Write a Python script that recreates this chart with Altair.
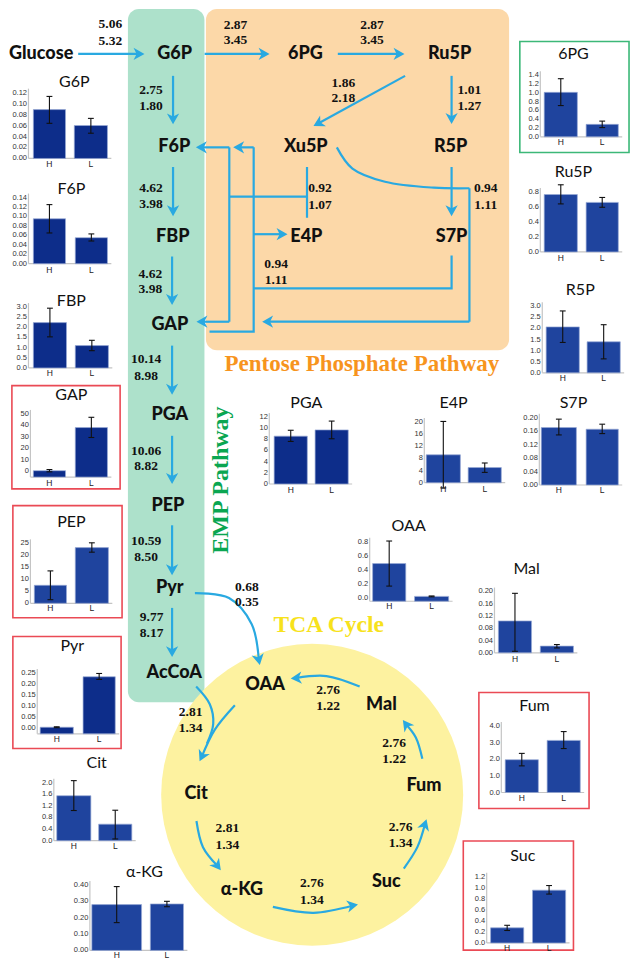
import math
import altair as alt
import pandas as pd

# ----------------------------- data -----------------------------
metabolites = ["G6P", "F6P", "FBP", "GAP", "PEP", "Pyr", "Cit", "α-KG", "6PG",
               "Ru5P", "R5P", "PGA", "E4P", "S7P", "OAA", "Mal", "Fum", "Suc"]
groups = ["H", "L"]
h_mean = [0.089, 0.095, 2.23, 0.2, 7.5, 0.003, 1.55, 0.28, 1.01, 0.765, 2.07, 8.55, 9.2, 0.171, 0.49, 0.104, 1.97, 0.274]
h_lo = [0.064, 0.065, 1.53, -0.8, 1.5, 0.001, 1.04, 0.17, 0.71, 0.64, 1.37, 7.6, -1.7, 0.149, 0.17, 0.005, 1.6, 0.226]
h_hi = [0.113, 0.125, 2.94, 1.2, 13.5, 0.005, 2.07, 0.39, 1.32, 0.895, 2.79, 9.6, 20.2, 0.196, 0.81, 0.194, 2.35, 0.32]
l_mean = [0.060, 0.055, 1.10, 38.0, 23.2, 0.232, 0.57, 0.284, 0.283, 0.66, 1.40, 9.66, 5.0, 0.166, 0.024, 0.022, 3.13, 0.956]
l_lo = [0.046, 0.048, 0.85, 29.3, 21.3, 0.220, 0.06, 0.267, 0.21, 0.595, 0.63, 8.08, 3.4, 0.153, 0.018, 0.016, 2.64, 0.885]
l_hi = [0.073, 0.063, 1.36, 47.0, 25.2, 0.247, 1.05, 0.30, 0.357, 0.726, 2.17, 11.24, 6.5, 0.181, 0.030, 0.027, 3.66, 1.04]
axis_max = [0.12, 0.14, 3.0, 50, 25, 0.25, 2.0, 0.40, 1.4, 0.8, 3.0, 12, 20, 0.20, 0.8, 0.20, 4.0, 1.2]
axis_step = [0.02, 0.02, 0.5, 10, 5, 0.05, 0.4, 0.10, 0.2, 0.2, 0.5, 2, 4, 0.04, 0.2, 0.04, 1.0, 0.2]
axis_min = [0, 0, 0, -5.4, 0, -0.027, 0, 0, 0, 0, 0, 0, 0, 0, -0.045, 0, 0, 0]
tick_decimals = [2, 2, 1, 0, 0, 2, 1, 2, 1, 1, 1, 0, 0, 2, 1, 2, 1, 1]

flux_top = ["5.06", "2.87", "2.87", "2.75", "1.86", "1.01", "4.62", "0.92", "0.94", "4.62", "0.94",
            "10.14", "10.06", "10.59", "9.77", "0.68", "2.81", "2.76", "2.76", "2.81", "2.76", "2.76"]
flux_bottom = ["5.32", "3.45", "3.45", "1.80", "2.18", "1.27", "3.98", "1.07", "1.11", "3.98", "1.11",
               "8.98", "8.82", "8.50", "8.17", "0.35", "1.34", "1.22", "1.22", "1.34", "1.34", "1.34"]

node_names = ["Glucose", "G6P", "6PG", "Ru5P", "F6P", "Xu5P", "R5P", "FBP", "E4P", "S7P", "GAP",
              "PGA", "PEP", "Pyr", "AcCoA", "OAA", "Mal", "Cit", "Fum", "α-KG", "Suc"]

pathway_titles = ["Pentose Phosphate Pathway", "EMP Pathway", "TCA Cycle"]

# ----------------------------- layout -----------------------------
W0, H0 = 638, 967          # reference coordinate space
PW, PH = 622, 951          # drawn size
SX = alt.Scale(domain=[0, W0], range=[0, PW], nice=False, zero=False)
SY = alt.Scale(domain=[0, H0], range=[0, PH], nice=False, zero=False)

BLUE = "#29a9e1"
RED = "#ea4a55"
GBOX = "#3cb878"
DARK = "#0d2d8a"
LIGHT = "#1f449e"

node_pos = [(34, 46.7), (171, 46.7), (305, 46.7), (453, 46.7), (170.5, 141.7), (305.5, 141.7),
            (454, 141.7), (169, 233), (306, 233), (455, 233), (166, 322.7), (166, 414), (164, 506),
            (166, 590), (170.5, 675.7), (263.7, 688.3), (383, 708.3), (193, 799.3), (426.7, 790.7),
            (240, 896.7), (388, 888.3)]

flux_pos = [(105, 16.7, 33.3), (233.3, 17, 33), (373.3, 17, 33), (146.7, 83.3, 100), (344, 76, 91.5),
            (473.3, 83.3, 99.3), (146.7, 183.3, 199.3), (320, 183.3, 200.3), (490, 183.3, 200),
            (146, 270, 286), (275, 260.7, 276.7), (141.7, 357.3, 374), (141.7, 450, 466),
            (141.7, 541.7, 558.3), (147.3, 619.3, 635.7), (245, 588.3, 604), (187.3, 716, 732),
            (328.3, 693.3, 709.3), (396, 747.3, 763.3), (225, 834.3, 850.7), (402.7, 832.7, 848.7),
            (311.7, 890, 906.7)]

pathway_style = [(363, 362, 0, "#f7941d", 23), (218, 480, 270, "#0aa651", 24), (329, 627, 0, "#f7e21c", 23.5)]

inset_layout = {
    "G6P": dict(ax=21, y0=153, ytop=86, hb=(26, 59), lb=(68, 102), title=(68, 75), xl=159, col=DARK),
    "F6P": dict(ax=21, y0=260, ytop=192.7, hb=(26, 59), lb=(69, 102), title=(65, 184), xl=266, col=DARK),
    "FBP": dict(ax=21, y0=366, ytop=304, hb=(26, 60), lb=(69, 103), title=(65, 298), xl=371.5, col=DARK),
    "GAP": dict(ax=23, y0=470.7, ytop=412.7, hb=(26, 59), lb=(69, 102), title=(65, 394), xl=483,
                box=(4, 384, 115, 489, RED), col=DARK),
    "PEP": dict(ax=23, y0=605.3, ytop=544.3, hb=(27, 60), lb=(69, 103), title=(65, 523), xl=610.5,
                box=(5, 506, 117, 620, RED), col=LIGHT),
    "Pyr": dict(ax=30, y0=732, ytop=676, hb=(33, 67), lb=(77, 110), title=(66, 649), xl=743,
                box=(5, 639, 116, 753, RED), col=DARK),
    "Cit": dict(ax=47, y0=846.7, ytop=787.7, hb=(50, 85), lb=(93, 127), title=(91, 768), xl=852, col=LIGHT),
    "α-KG": dict(ax=84, y0=958.3, ytop=891.7, hb=(86, 137), lb=(146, 180), title=(140, 879), xl=963, col=LIGHT),
    "6PG": dict(ax=546, y0=131, ytop=68.3, hb=(550, 584), lb=(593, 626), title=(580, 47), xl=136.5,
                box=(525, 34, 637, 147, GBOX), col=LIGHT),
    "Ru5P": dict(ax=546, y0=248, ytop=187, hb=(550, 584), lb=(593, 626), title=(580, 167), xl=254, col=LIGHT),
    "R5P": dict(ax=548, y0=371, ytop=303.3, hb=(552, 586), lb=(594, 628), title=(587, 287), xl=376.5, col=LIGHT),
    "PGA": dict(ax=268, y0=484, ytop=415.7, hb=(273, 307), lb=(315, 349), title=(306, 402), xl=490, col=DARK),
    "E4P": dict(ax=427, y0=482.7, ytop=421, hb=(429, 464), lb=(472, 506), title=(457, 402), xl=489, col=LIGHT),
    "S7P": dict(ax=545, y0=485, ytop=416.7, hb=(547, 583), lb=(593, 626), title=(580, 402), xl=490.5, col=LIGHT),
    "OAA": dict(ax=371, y0=600, ytop=542.7, hb=(374, 408), lb=(417, 452), title=(411, 527), xl=608.5, col=LIGHT),
    "Mal": dict(ax=499, y0=655.7, ytop=593.3, hb=(503, 537), lb=(546, 580), title=(532, 570), xl=662, col=LIGHT),
    "Fum": dict(ax=506, y0=797.7, ytop=730, hb=(510, 544), lb=(553, 587), title=(540, 710), xl=803,
                box=(483, 696, 596, 814, RED), col=LIGHT),
    "Suc": dict(ax=491, y0=950.7, ytop=883.3, hb=(495, 529), lb=(538, 572), title=(528, 862), xl=956,
                box=(467, 847, 580, 958, RED), col=LIGHT),
}

# arrows: straight (start, tip)
straight_arrows = [
    ((72, 46.7), (140, 46.7)), ((201.7, 46.7), (268.3, 46.7)), ((338.3, 46.7), (406.7, 46.7)),
    ((169.3, 69), (169.3, 118.3)), ((407.3, 69), (313.3, 120)), ((455, 69), (455, 118)),
    ((169.3, 161.7), (169.3, 211.7)), ((455, 161.7), (455, 211.7)),
    ((168.3, 252.7), (168.3, 302)), ((168.3, 343.3), (168.3, 393.3)), ((168.3, 435), (168.3, 484)),
    ((168.3, 526), (168.3, 576.7)), ((168.3, 610), (168.3, 660)),
    ((227, 141.7), (192.7, 141.7)), ((252, 141.7), (231, 141.7)), ((252, 230), (286.7, 230)),
    ((227, 319), (193.3, 319)), ((473.3, 319), (260.7, 319)),
]
polylines = [
    [(306.7, 161.7), (306.7, 213.3)], [(227, 191.7), (306.7, 191.7)], [(227, 141.7), (227, 319)],
    [(252, 141.7), (252, 329), (206.7, 329)], [(252, 285), (455, 285), (455, 251.7)],
    [(473.3, 183.3), (473.3, 319)],
]
curves = [  # (points, arrow at end?)
    ([(337.3, 141.7), (353.3, 163.3), (386.7, 176.7), (436.7, 182.7), (473.3, 183.3)], False),
    ([(191.7, 595), (226.7, 600), (250, 626.7), (258.3, 668)], True),
    ([(193, 690), (207, 708), (210.5, 728), (204, 748)], False),
    ([(232.7, 709), (212, 734), (196.5, 766)], True),
    ([(193.3, 826.7), (200, 853.3), (218.3, 876.7)], True),
    ([(271.7, 914), (313.3, 920), (359, 911.7)], True),
    ([(406, 875), (420, 853), (429.3, 825)], True),
    ([(425, 763.3), (418.3, 741.7), (405, 724)], True),
    ([(360.7, 690), (326.7, 679.3), (290, 681.7)], True),
]


def X(f):
    return alt.X(f, type="quantitative", scale=SX, axis=None)


def Y(f):
    return alt.Y(f, type="quantitative", scale=SY, axis=None)


def unit(a, b):
    dx, dy = b[0] - a[0], b[1] - a[1]
    n = math.hypot(dx, dy)
    return dx / n, dy / n


# ----------------------------- background -----------------------------
bg = pd.DataFrame([
    dict(x1=203, x2=514, y1=1, y2=348, fill="#fcd8a8"),
    dict(x1=123, x2=201.5, y1=1, y2=706, fill="#ade1cb"),
])
bg_layer = alt.Chart(bg).mark_rect(cornerRadius=11).encode(
    x=X("x1"), x2="x2", y=Y("y1"), y2="y2", color=alt.Color("fill:N", scale=None))

circle_df = pd.DataFrame([dict(x=312, y=800)])
circle_layer = alt.Chart(circle_df).mark_circle(size=(2 * 151) ** 2, opacity=1, color="#fdf2a0").encode(
    x=X("x"), y=Y("y"))

# ----------------------------- arrows -----------------------------
lin_rows, cur_rows, head_rows = [], [], []
pid = 0
for s, t in straight_arrows:
    ux, uy = unit(s, t)
    e = (t[0] - 6 * ux, t[1] - 6 * uy)
    for i, p in enumerate([s, e]):
        lin_rows.append(dict(pid=pid, ord=i, x=p[0], y=p[1]))
    head_rows.append(dict(x=t[0], y=t[1], ang=math.degrees(math.atan2(uy * 0.983, ux * 0.975)) % 360))
    pid += 1
for pts in polylines:
    for i, p in enumerate(pts):
        lin_rows.append(dict(pid=pid, ord=i, x=p[0], y=p[1]))
    pid += 1
for pts, head in curves:
    pts = list(pts)
    if head:
        t = pts[-1]
        ux, uy = unit(pts[-2], t)
        pts[-1] = (t[0] - 5 * ux, t[1] - 5 * uy)
        head_rows.append(dict(x=t[0], y=t[1], ang=math.degrees(math.atan2(uy * 0.983, ux * 0.975)) % 360))
    for i, p in enumerate(pts):
        cur_rows.append(dict(pid=pid, ord=i, x=p[0], y=p[1]))
    pid += 1

lin_layer = alt.Chart(pd.DataFrame(lin_rows)).mark_line(color=BLUE, strokeWidth=2.2, strokeJoin="miter").encode(
    x=X("x"), y=Y("y"), detail="pid:N", order="ord:Q")
cur_layer = alt.Chart(pd.DataFrame(cur_rows)).mark_line(color=BLUE, strokeWidth=2.2, interpolate="catmull-rom").encode(
    x=X("x"), y=Y("y"), detail="pid:N", order="ord:Q")
ARROW = "M0,0 L-1,-0.56 L-0.72,0 L-1,0.56 Z"
head_layer = alt.Chart(pd.DataFrame(head_rows)).mark_point(
    shape=ARROW, filled=True, size=480, color=BLUE, opacity=1, strokeWidth=0).encode(
    x=X("x"), y=Y("y"), angle=alt.Angle("ang:Q", scale=None))

# ----------------------------- texts -----------------------------
node_df = pd.DataFrame([dict(t=n, x=p[0], y=p[1]) for n, p in zip(node_names, node_pos)])
node_layer = alt.Chart(node_df).mark_text(font="Lato", fontWeight=900, fontSize=18, color="#111",
                                          baseline="middle").encode(x=X("x"), y=Y("y"), text="t:N")

flux_rows = []
for a, b, p in zip(flux_top, flux_bottom, flux_pos):
    flux_rows.append(dict(t=a, x=p[0], y=p[1]))
    flux_rows.append(dict(t=b, x=p[0], y=p[2]))
flux_layer = alt.Chart(pd.DataFrame(flux_rows)).mark_text(
    font="Liberation Serif", fontWeight="bold", fontSize=13.5, color="#111", baseline="middle").encode(
    x=X("x"), y=Y("y"), text="t:N")

pw_df = pd.DataFrame([dict(t=t, x=s[0], y=s[1], ang=s[2], col=s[3], fs=s[4])
                      for t, s in zip(pathway_titles, pathway_style)])
pw_layer = alt.Chart(pw_df).mark_text(font="Liberation Serif", fontWeight="bold", baseline="middle").encode(
    x=X("x"), y=Y("y"), text="t:N", angle=alt.Angle("ang:Q", scale=None),
    color=alt.Color("col:N", scale=None), size=alt.Size("fs:Q", scale=None))

# ----------------------------- inset bar charts -----------------------------
box_rows, axis_rows, bar_rows, err_rows, cap_rows, tick_rows, xl_rows, title_rows = ([] for _ in range(8))
for i, m in enumerate(metabolites):
    L = inset_layout[m]
    k = (L["y0"] - L["ytop"]) / axis_max[i]

    def vy(v, L=L, k=k):
        return L["y0"] - v * k

    ybase = vy(axis_min[i])
    if "box" in L:
        b = L["box"]
        box_rows.append(dict(x1=b[0], y1=b[1], x2=b[2], y2=b[3], col=b[4]))
    axis_rows.append(dict(x1=L["ax"], x2=L["ax"], y1=ybase, y2=vy(axis_max[i]) - 4))
    axis_rows.append(dict(x1=L["ax"], x2=L["lb"][1] + 4, y1=ybase, y2=ybase))
    n = int(round(axis_max[i] / axis_step[i]))
    for j in range(n + 1):
        v = round(j * axis_step[i], 6)
        tick_rows.append(dict(t=f"{v:.{tick_decimals[i]}f}", x=L["ax"] - 1.5, y=vy(v)))
    for g, xr, mv, lo, hi in (("H", L["hb"], h_mean[i], h_lo[i], h_hi[i]),
                              ("L", L["lb"], l_mean[i], l_lo[i], l_hi[i])):
        cx = (xr[0] + xr[1]) / 2
        bar_rows.append(dict(x1=xr[0], x2=xr[1], y1=ybase, y2=vy(mv), col=L["col"]))
        err_rows.append(dict(x1=cx, x2=cx, y1=vy(lo), y2=vy(hi)))
        cap_rows.append(dict(x1=cx - 3, x2=cx + 3, y1=vy(lo), y2=vy(lo)))
        cap_rows.append(dict(x1=cx - 3, x2=cx + 3, y1=vy(hi), y2=vy(hi)))
        xl_rows.append(dict(t=g, x=cx, y=L["xl"]))
    title_rows.append(dict(t=m, x=L["title"][0], y=L["title"][1]))

box_layer = alt.Chart(pd.DataFrame(box_rows)).mark_rect(fillOpacity=0, strokeWidth=1.6).encode(
    x=X("x1"), x2="x2", y=Y("y1"), y2="y2", stroke=alt.Stroke("col:N", scale=None))
axis_layer = alt.Chart(pd.DataFrame(axis_rows)).mark_rule(color="#c4c4c4", strokeWidth=1.2).encode(
    x=X("x1"), x2="x2", y=Y("y1"), y2="y2")
bar_layer = alt.Chart(pd.DataFrame(bar_rows)).mark_rect(stroke="#9aaad6", strokeWidth=0.7).encode(
    x=X("x1"), x2="x2", y=Y("y1"), y2="y2", color=alt.Color("col:N", scale=None))
err_layer = alt.Chart(pd.DataFrame(err_rows + cap_rows)).mark_rule(color="#111", strokeWidth=1.1).encode(
    x=X("x1"), x2="x2", y=Y("y1"), y2="y2")
tick_layer = alt.Chart(pd.DataFrame(tick_rows)).mark_text(
    font="Liberation Sans", fontSize=7.5, color="#333", align="right", baseline="middle").encode(
    x=X("x"), y=Y("y"), text="t:N")
xl_layer = alt.Chart(pd.DataFrame(xl_rows)).mark_text(
    font="Liberation Sans", fontSize=8.5, color="#222", baseline="middle").encode(
    x=X("x"), y=Y("y"), text="t:N")
title_layer = alt.Chart(pd.DataFrame(title_rows)).mark_text(
    font="Lato", fontSize=16, color="#111", baseline="middle").encode(
    x=X("x"), y=Y("y"), text="t:N")

chart = alt.layer(
    bg_layer, circle_layer, lin_layer, cur_layer, head_layer, node_layer, flux_layer, pw_layer,
    box_layer, axis_layer, bar_layer, err_layer, tick_layer, xl_layer, title_layer
).properties(width=PW, height=PH, padding=0, autosize="none").configure_view(stroke=None)

chart.save("out.html", embed_options={"renderer": "svg", "actions": False})
